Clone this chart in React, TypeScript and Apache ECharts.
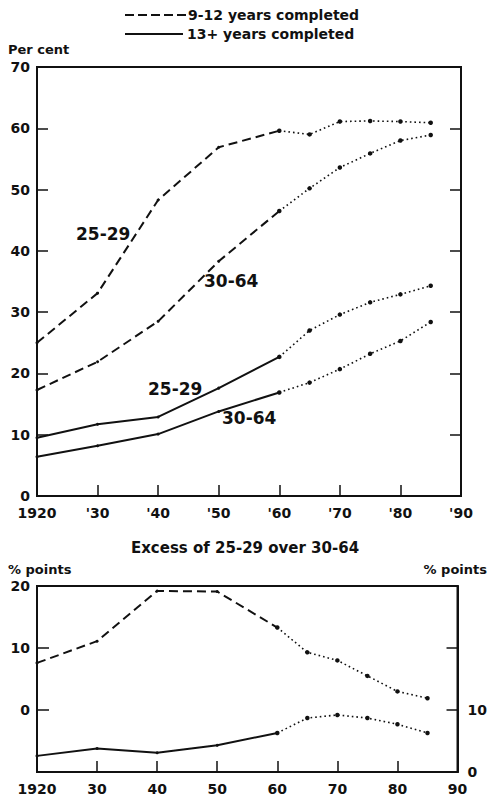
import React, { useEffect, useRef } from "react";
import * as echarts from "echarts";

const years = [1920, 1930, 1940, 1950, 1960, 1965, 1970, 1975, 1980, 1985];
// 9-12 years completed
const hs2529 = [25, 33.1, 48.3, 56.9, 59.6, 59.0, 61.1, 61.2, 61.1, 60.9];
const hs3064 = [17.3, 21.9, 28.5, 38.3, 46.5, 50.2, 53.6, 55.9, 58.0, 58.9];
// 13+ years completed
const col2529 = [9.5, 11.7, 12.9, 17.6, 22.7, 27.0, 29.6, 31.6, 32.9, 34.3];
const col3064 = [6.4, 8.2, 10.1, 13.8, 16.9, 18.5, 20.7, 23.2, 25.3, 28.4];
// Excess of 25-29 over 30-64
const excessHs = [7.6, 11.1, 19.2, 19.1, 13.3, 9.3, 8.0, 5.5, 3.0, 1.9];
const excessCol = [2.6, 3.8, 3.1, 4.3, 6.3, 8.7, 9.2, 8.7, 7.7, 6.3];

const topTicks = ["1920", "'30", "'40", "'50", "'60", "'70", "'80", "'90"];
const bottomTicks = ["1920", "30", "40", "50", "60", "70", "80", "90"];

const FONT = "DejaVu Sans";
const BLACK = "#111";

function pairs(vals: number[], from: number, to: number) {
  const out: number[][] = [];
  for (let i = from; i <= to; i++) out.push([years[i], vals[i]]);
  return out;
}

function split(
  name: string,
  vals: number[],
  style: "dashed" | "solid",
  xAxisIndex: number,
  yAxisIndex: number
) {
  const lineType: any = style === "dashed" ? [9, 5] : "solid";
  return [
    {
      name,
      type: "line",
      xAxisIndex,
      yAxisIndex,
      data: pairs(vals, 0, 4),
      symbol: "circle",
      symbolSize: 3,
      itemStyle: { color: BLACK },
      lineStyle: { color: BLACK, width: 2, type: lineType },
      silent: true,
    },
    {
      name: name + " (dotted)",
      type: "line",
      xAxisIndex,
      yAxisIndex,
      data: pairs(vals, 4, 9),
      symbol: "circle",
      symbolSize: 4.5,
      itemStyle: { color: BLACK },
      lineStyle: { color: BLACK, width: 1.6, type: [1.6, 3] },
      silent: true,
    },
  ];
}

function txt(size: number) {
  return { fill: BLACK, fontFamily: FONT, fontSize: size, fontWeight: "bold" };
}

export default function App() {
  const ref = useRef<HTMLDivElement>(null);
  useEffect(() => {
    if (!ref.current) return;
    const chart = echarts.init(ref.current, undefined, { renderer: "svg" });
    const labelStyle = { color: BLACK, fontFamily: FONT, fontSize: 14, fontWeight: "bold" as any };
    const xBase = {
      type: "value",
      min: 1920,
      max: 1990,
      interval: 10,
      axisLine: { show: true, onZero: false, lineStyle: { color: BLACK, width: 2 } },
      axisTick: { show: true, inside: true, length: 11, lineStyle: { color: BLACK, width: 1.5 } },
      splitLine: { show: false },
    };
    const yBase = {
      type: "value",
      interval: 10,
      axisLine: { show: true, onZero: false, lineStyle: { color: BLACK, width: 2 } },
      axisTick: { show: true, inside: true, length: 11, lineStyle: { color: BLACK, width: 1.5 } },
      splitLine: { show: false },
    };
    const option: any = {
      animation: false,
      backgroundColor: "#fff",
      grid: [
        { left: 37, top: 67, width: 424, height: 429, show: true, borderColor: BLACK, borderWidth: 2 },
        { left: 37, top: 586, width: 424, height: 186, show: true, borderColor: BLACK, borderWidth: 2 },
      ],
      xAxis: [
        {
          ...xBase,
          gridIndex: 0,
          axisLabel: {
            ...labelStyle,
            margin: 10,
            formatter: (v: number) => topTicks[Math.round((v - 1920) / 10)] ?? "",
          },
        },
        {
          ...xBase,
          gridIndex: 1,
          axisLabel: {
            ...labelStyle,
            margin: 10,
            formatter: (v: number) => bottomTicks[Math.round((v - 1920) / 10)] ?? "",
          },
        },
      ],
      yAxis: [
        {
          ...yBase,
          gridIndex: 0,
          min: 0,
          max: 70,
          axisLabel: { ...labelStyle, fontSize: 14, margin: 7 },
        },
        {
          ...yBase,
          gridIndex: 0,
          position: "right",
          min: 0,
          max: 70,
          axisLabel: { show: false },
        },
        {
          ...yBase,
          gridIndex: 1,
          min: -10,
          max: 20,
          axisTick: { show: true, inside: true, length: 12, lineStyle: { color: BLACK, width: 1.5 } },
          axisLabel: {
            ...labelStyle,
            fontSize: 14,
            margin: 7,
            formatter: (v: number) => (v < 0 ? "" : String(v)),
          },
        },
        {
          ...yBase,
          gridIndex: 1,
          position: "right",
          min: 0,
          max: 30,
          axisLabel: {
            ...labelStyle,
            fontSize: 14,
            margin: 10,
            formatter: (v: number) => (v > 10 ? "" : String(v)),
          },
        },
      ],
      series: [
        ...split("9-12, 25-29", hs2529, "dashed", 0, 0),
        ...split("9-12, 30-64", hs3064, "dashed", 0, 0),
        ...split("13+, 25-29", col2529, "solid", 0, 0),
        ...split("13+, 30-64", col3064, "solid", 0, 0),
        ...split("Excess 9-12", excessHs, "dashed", 1, 2),
        ...split("Excess 13+", excessCol, "solid", 1, 3),
      ],
      graphic: [
        { type: "line", shape: { x1: 125, y1: 15, x2: 186, y2: 15 }, style: { stroke: BLACK, lineWidth: 2, lineDash: [9, 4] } },
        { type: "text", x: 188, y: 15, style: { text: "9-12 years completed", ...txt(14), verticalAlign: "middle" } },
        { type: "line", shape: { x1: 125, y1: 34, x2: 183, y2: 34 }, style: { stroke: BLACK, lineWidth: 2 } },
        { type: "text", x: 187, y: 34, style: { text: "13+ years completed", ...txt(14), verticalAlign: "middle" } },
        { type: "text", x: 8, y: 49, style: { text: "Per cent", ...txt(13), verticalAlign: "middle" } },
        { type: "text", x: 76, y: 234, style: { text: "25-29", ...txt(17), verticalAlign: "middle" } },
        { type: "text", x: 204, y: 281, style: { text: "30-64", ...txt(17), verticalAlign: "middle" } },
        { type: "text", x: 148, y: 389, style: { text: "25-29", ...txt(17), verticalAlign: "middle" } },
        { type: "text", x: 222, y: 418, style: { text: "30-64", ...txt(17), verticalAlign: "middle" } },
        { type: "text", x: 245, y: 548, style: { text: "Excess of 25-29 over 30-64", ...txt(15), align: "center", verticalAlign: "middle" } },
        { type: "text", x: 8, y: 569, style: { text: "% points", ...txt(13), verticalAlign: "middle" } },
        { type: "text", x: 487, y: 569, style: { text: "% points", ...txt(13), align: "right", verticalAlign: "middle" } },
      ],
    };
    chart.setOption(option);
    return () => chart.dispose();
  }, []);
  return <div ref={ref} style={{ width: 490, height: 799, position: "absolute", left: 0, top: 0 }} />;
}
